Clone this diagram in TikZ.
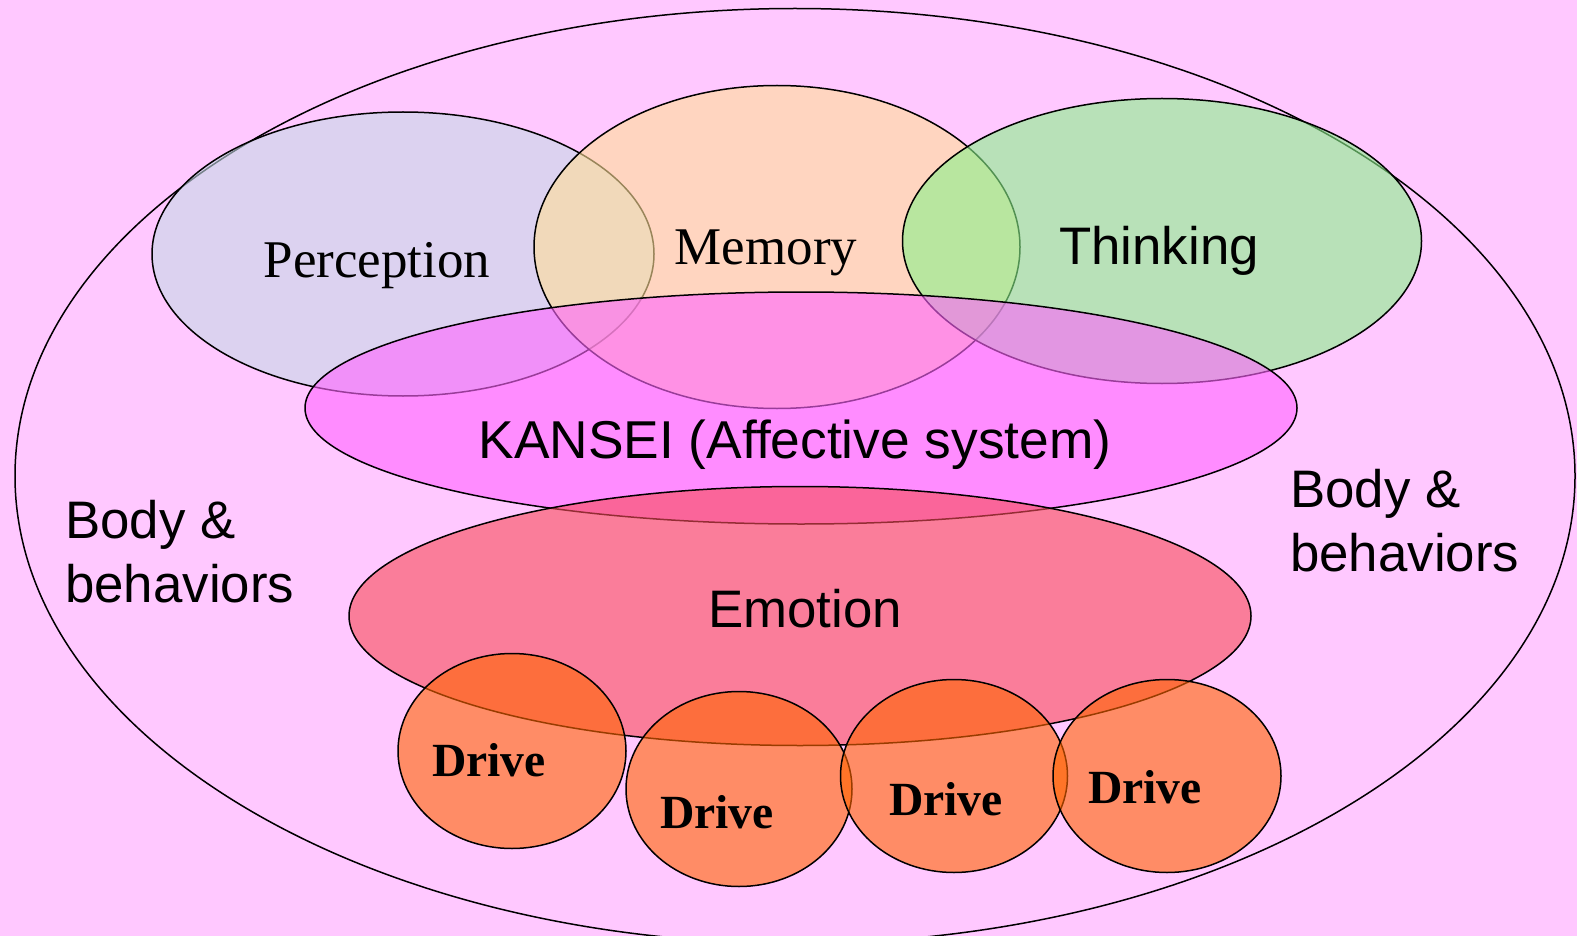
\documentclass[tikz,border=0pt]{standalone}
\usepackage{fontspec}
\setmainfont{Liberation Serif}
\setsansfont{Liberation Sans}
\usetikzlibrary{shapes.geometric}
\definecolor{bgpink}{RGB}{255,200,255}
\definecolor{percol}{RGB}{197,217,230}
\definecolor{memcol}{RGB}{255,222,150}
\definecolor{thinkcol}{RGB}{138,242,138}
\definecolor{kancol}{RGB}{255,100,255}
\definecolor{emocol}{RGB}{247,75,88}
\definecolor{drivecol}{RGB}{255,100,0}

\begin{document}
\begin{tikzpicture}[x=1pt,y=-1pt,
    blob/.style={ellipse,draw=black,line width=1.5pt,fill opacity=0.6,inner sep=0pt},
    serifword/.style={font=\fontsize{53}{63}\selectfont,anchor=base,inner sep=0pt},
    sansword/.style={font=\sffamily\fontsize{52.8}{64}\selectfont,anchor=base,inner sep=0pt},
    driveword/.style={font=\bfseries\fontsize{47.6}{56}\selectfont,anchor=base,inner sep=0pt}]
        \useasboundingbox (0,0) rectangle (1577,936);
        \fill[bgpink] (0,0) rectangle (1577,936);
        \node[ellipse,draw=black,line width=1.5pt,inner sep=0pt,minimum width=1560pt,minimum height=935pt] (body) at (795,476) {};
        \node[blob,fill=percol,minimum width=502pt,minimum height=284pt] (perception) at (403,254) {};
        \node[blob,fill=memcol,minimum width=486pt,minimum height=323pt] (memory) at (777,247) {};
        \node[blob,fill=thinkcol,minimum width=519pt,minimum height=285pt] (thinking) at (1162,241) {};
        \node[blob,fill=kancol,minimum width=992pt,minimum height=232pt] (kansei) at (801,408) {};
        \node[blob,fill=emocol,minimum width=902pt,minimum height=259pt] (emotion) at (800,616) {};
        \node[blob,fill=drivecol,minimum width=228pt,minimum height=195pt] (drivea) at (512,751) {};
        \node[blob,fill=drivecol,minimum width=226pt,minimum height=195pt] (driveb) at (739,789) {};
        \node[blob,fill=drivecol,minimum width=227pt,minimum height=193pt] (drivec) at (954,776) {};
        \node[blob,fill=drivecol,minimum width=228pt,minimum height=193pt] (drived) at (1167,776) {};
        \node[serifword] (perceptiontext) at (377,277) {Perception};
        \node[serifword] (memorytext) at (766,265) {Memory};
        \node[sansword] (thinkingtext) at (1159,265) {Thinking};
        \node[sansword,font=\sffamily\fontsize{53.3}{64}\selectfont] (kanseitext) at (795,458) {KANSEI (Affective system)};
        \node[sansword] (emotiontext) at (805,627) {Emotion};
        \node[sansword,align=left,anchor=base west] (bodyleft) at (65,602) {Body \&\\behaviors};
        \node[sansword,align=left,anchor=base west] (bodyright) at (1290,571) {Body \&\\behaviors};
        \node[driveword] (driveatext) at (489,776) {Drive};
        \node[driveword] (drivebtext) at (717,828) {Drive};
        \node[driveword] (drivectext) at (946,815) {Drive};
        \node[driveword] (drivedtext) at (1145,803) {Drive};
    \end{tikzpicture}
\end{document}
